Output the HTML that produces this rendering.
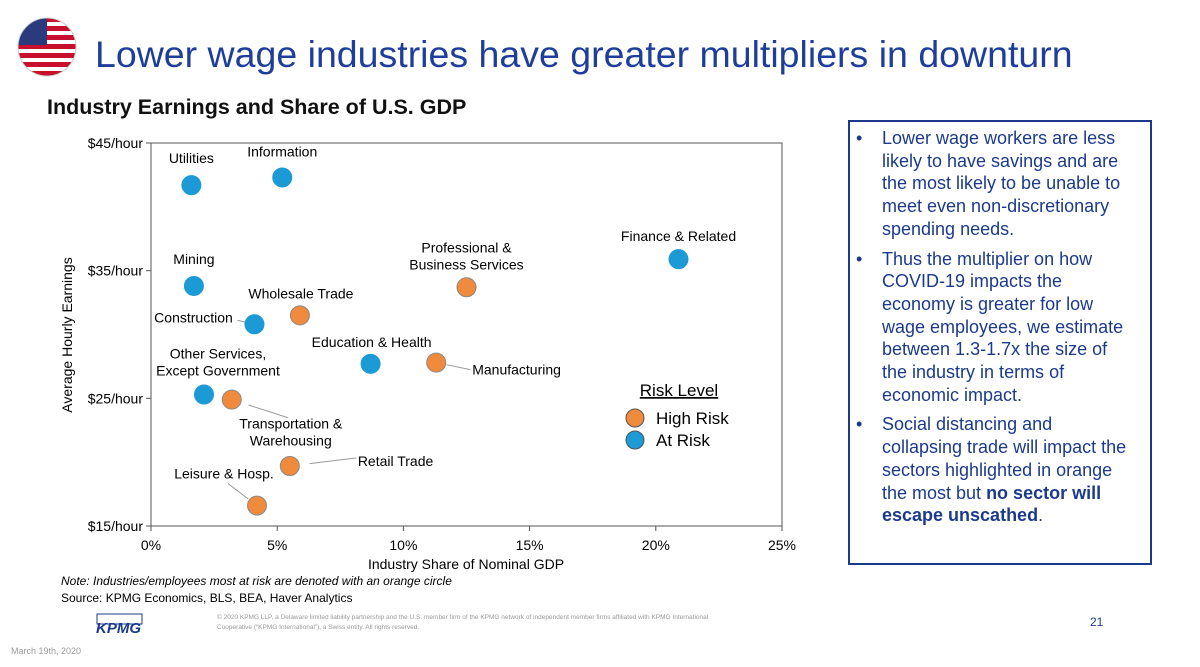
<!DOCTYPE html>
<html><head><meta charset="utf-8"><style>
body{margin:0;width:1200px;height:667px;background:#fff;overflow:hidden;position:relative;font-family:"Liberation Sans",sans-serif}
#box{position:absolute;left:848px;top:120px;width:300px;height:441px;border:2px solid #1c3a8c;color:#1c3a8c;font-size:18px;line-height:22.7px;box-sizing:content-box}
#box ul{margin:0;padding:5px 14px 0 32px;list-style:none}
#box li{position:relative;margin:0 0 7px 0}
#box li:before{content:"•";position:absolute;left:-26px}
</style></head><body>
<svg width="1200" height="667" style="position:absolute;left:0;top:0" font-family="Liberation Sans, sans-serif">
<g>
<clipPath id="fc"><circle cx="47" cy="47" r="29"/></clipPath>
<g clip-path="url(#fc)">
<rect x="17" y="17" width="60" height="60" fill="#fff"/>
<g fill="#c8102e"><rect x="17" y="17" width="60" height="5"/><rect x="17" y="26" width="60" height="5"/><rect x="17" y="35" width="60" height="5"/><rect x="17" y="44" width="60" height="5"/><rect x="17" y="53" width="60" height="5"/><rect x="17" y="62" width="60" height="5"/><rect x="17" y="71" width="60" height="6"/></g>
<rect x="17" y="17" width="30" height="28" fill="#2a3a7c"/>
</g><circle cx="47" cy="47" r="29" fill="none" stroke="#ccc"/></g>
<text x="95" y="67" font-size="37.5" fill="#1f3e9b">Lower wage industries have greater multipliers in downturn</text>
<text x="47" y="114" font-size="21.5" font-weight="bold" fill="#111">Industry Earnings and Share of U.S. GDP</text>
<g id="chart"></g>
<text x="61" y="585" font-size="12" font-style="italic">Note: Industries/employees most at risk are denoted with an orange circle</text>
<text x="61" y="602" font-size="12">Source: KPMG Economics, BLS, BEA, Haver Analytics</text>
<g><rect x="97" y="614" width="45" height="10" fill="none" stroke="#1c3a8c" stroke-width="1"/><text x="96" y="633" font-size="15" font-weight="bold" font-style="italic" fill="#1c3a8c">KPMG</text></g>
<text x="217" y="619" font-size="6.5" fill="#999">© 2020 KPMG LLP, a Delaware limited liability partnership and the U.S. member firm of the KPMG network of independent member firms affiliated with KPMG International</text>
<text x="217" y="629" font-size="6.5" fill="#999">Cooperative (“KPMG International”), a Swiss entity. All rights reserved.</text>
<text x="1090" y="626" font-size="12" fill="#1c3a8c">21</text>
<text x="11" y="654" font-size="9" fill="#999">March 19th, 2020</text>
</svg>
<div id="box"><ul>
<li>Lower wage workers are less likely to have savings and are the most likely to be unable to meet even non-discretionary spending needs.</li>
<li>Thus the multiplier on how COVID-19 impacts the economy is greater for low wage employees, we estimate between 1.3-1.7x the size of the industry in terms of economic impact.</li>
<li>Social distancing and collapsing trade will impact the sectors highlighted in orange the most but <b>no sector will escape unscathed</b>.</li>
</ul></div>
<script>
const industries=["Utilities","Information","Mining","Construction","Wholesale Trade","Professional & Business Services","Finance & Related","Education & Health","Manufacturing","Other Services, Except Government","Transportation & Warehousing","Retail Trade","Leisure & Hosp."];
const gdpShare=[1.6,5.2,1.7,4.1,5.9,12.5,20.9,8.7,11.3,2.1,3.2,5.5,4.2];
const hourly=[41.7,42.3,33.8,30.8,31.5,33.7,35.9,27.7,27.8,25.3,24.9,19.7,16.6];
const highRisk=[0,0,0,0,1,1,0,0,1,0,1,1,1];
const xTicks=[0,5,10,15,20,25];
const yTicks=[15,25,35,45];
const X0=151,X1=782,Y0=526,Y1=143;
const xs=v=>X0+(v-0)/25*(X1-X0), ys=v=>Y0-(v-15)/30*(Y0-Y1);
const NS="http://www.w3.org/2000/svg",g=document.getElementById('chart');
function mk(t,a,txt){const e=document.createElementNS(NS,t);for(const k in a)e.setAttribute(k,a[k]);if(txt!=null)e.textContent=txt;g.appendChild(e);return e;}
let e=mk('rect',{x:X0,y:Y1,width:X1-X0,height:Y0-Y1,fill:'none',stroke:'#555','stroke-width':1});

xTicks.forEach(t=>{mk('line',{x1:xs(t),x2:xs(t),y1:Y0,y2:Y0+5,stroke:'#555'});e=mk('text',{x:xs(t),y:Y0+24,'font-size':14,'text-anchor':'middle'},t+'%');});
yTicks.forEach(t=>{mk('line',{x1:X0-5,x2:X0,y1:ys(t),y2:ys(t),stroke:'#555'});e=mk('text',{x:X0-8,y:ys(t)+5,'font-size':14,'text-anchor':'end'},'$'+t+'/hour');});
e=mk('text',{x:466,y:569,'font-size':14,'text-anchor':'middle'},'Industry Share of Nominal GDP');
e=mk('text',{x:0,y:0,'font-size':14,'text-anchor':'middle',transform:'translate(72,335) rotate(-90)'},'Average Hourly Earnings');
const lab=[[0,-22,'middle'],[0,-21,'middle'],[0,-22,'middle'],[-61,-2,'middle',1],[1,-17,'middle'],[0,-35,'middle'],[0,-18,'middle'],[1,-17,'middle'],[36,12,'start',1],[14,-36,'middle'],[59,29,'middle',1],[68,0,'start',1],[-33,-27,'middle',1]];
industries.forEach((n,i)=>{
 const cx=xs(gdpShare[i]),cy=ys(hourly[i]),L=lab[i];
 if(L[3]){let x2,y2;
  if(i==3){x2=cx-17;y2=cy-4;} if(i==8){x2=cx+34;y2=cy+7;} if(i==10){x2=cx+56;y2=cy+18;} if(i==11){x2=cx+66;y2=cy-8;} if(i==12){x2=cx-29;y2=cy-22;}
  mk('line',{x1:cx+(x2-cx)*0.3,y1:cy+(y2-cy)*0.3,x2:x2,y2:y2,stroke:'#999'});}
 const parts=n==="Professional & Business Services"?["Professional &","Business Services"]:n==="Other Services, Except Government"?["Other Services,","Except Government"]:n==="Transportation & Warehousing"?["Transportation &","Warehousing"]:[n];
 parts.forEach((p,k)=>{e=mk('text',{x:cx+L[0],y:cy+L[1]+k*17,'font-size':14,'text-anchor':L[2]},p);});
 e=mk('circle',{cx:cx,cy:cy,r:9.5,fill:highRisk[i]?'#f08a3c':'#1b9ad6',stroke:highRisk[i]?'#8a8a8a':'#1b9ad6','stroke-width':1});
 
});
e=mk('text',{x:679,y:396,'font-size':17,'text-anchor':'middle','text-decoration':'underline'},'Risk Level');
[['High Risk','#f08a3c',418],['At Risk','#1b9ad6',440]].forEach(l=>{mk('circle',{cx:635,cy:l[2],r:9,fill:l[1],stroke:'#555'});e=mk('text',{x:656,y:l[2]+6,'font-size':17},l[0]);});
</script>
</body></html>
